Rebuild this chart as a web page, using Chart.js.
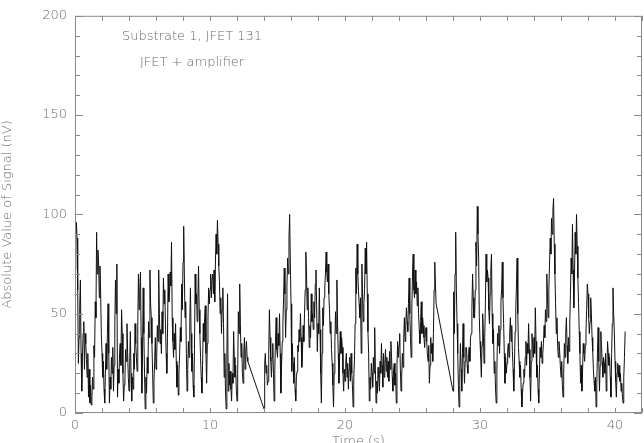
<!DOCTYPE html>
<html>
<head>
<meta charset="utf-8">
<script src="https://cdn.jsdelivr.net/npm/chart.js@4/dist/chart.umd.min.js"></script>
<style>
html,body{margin:0;padding:0;overflow:hidden;background:#fff;}
#c{display:block;}
</style>
</head>
<body>
<canvas id="c" width="644" height="450"></canvas>
<script>
// Sampling: three recorded stretches, 0.05 s between samples
const segmentStart = [0, 14, 28];   // s
const sampleStep = 0.05;            // s
// Absolute value of signal (nV)
const signal1 = [
72,86,96,88,62,25,38,54,67,30,11,28,40,46,22,40,35,27,18,30,
8,22,5,14,4,7,18,12,34,28,56,48,91,70,82,75,58,74,60,40,
30,18,26,12,5,20,35,22,40,55,30,5,18,12,28,20,33,11,24,45,
67,50,75,8,22,15,30,35,24,52,40,20,6,14,18,32,26,45,30,18,
11,25,41,20,6,18,12,30,22,45,35,28,21,44,70,52,62,71,38,10,
30,63,40,20,2,18,10,28,20,46,38,72,55,48,35,20,5,16,26,38,
22,28,44,36,72,50,35,42,30,51,40,68,55,62,45,30,20,38,70,56,
60,71,64,86,48,36,28,40,32,45,26,13,24,9,20,30,43,36,65,52,
76,94,70,48,56,30,11,22,36,28,45,63,40,21,30,14,8,32,70,55,
60,46,58,74,52,40,28,18,10,24,45,36,48,54,30,15,35,48,63,55,
62,70,58,68,70,60,72,56,75,90,80,97,85,74,66,50,58,40,52,63,
45,18,30,10,2,30,60,11,25,14,21,12,6,20,15,41,28,18,24,12,
6,20,51,40,65,45,28,35,20,15,30,38,22,31,36,28,26
];
const signal2 = [
2,25,30,20,24,14,16,30,52,38,26,18,28,35,20,6,22,36,48,32,
28,40,34,50,30,10,24,36,45,58,73,60,38,52,64,78,70,88,100,76,
55,21,35,25,15,28,12,6,18,21,34,31,42,36,50,38,23,30,44,36,
50,62,81,70,52,63,48,33,44,38,60,46,50,42,56,48,65,72,54,31,
45,40,63,42,20,5,30,53,44,58,63,70,81,71,66,75,60,52,40,46,
32,25,14,3,20,36,51,40,67,45,30,15,28,41,30,38,33,20,11,22,
16,25,30,18,25,12,22,28,16,30,20,14,3,18,26,45,73,60,85,70,
61,55,48,58,30,75,60,46,55,62,83,70,86,60,41,30,6,18,12,25,
20,13,28,20,43,22,5,16,10,23,18,11,26,20,35,24,13,30,18,25,
32,21,28,18,26,16,31,22,36,28,18,11,22,25,14,20,5,24,36,28,
34,40,22,11,18,30,23,38,48,36,44,53,46,41,55,68,50,38,28,52,
70,80,62,58,72,60,66,54,63,50,42,35,46,56,40,48,44,38,33,40,
43,36,30,26,34,15,24,38,30,35,26,40,62,76,64,55
];
const signal3 = [
11,61,40,70,91,62,45,30,14,3,20,35,22,11,30,45,28,15,26,33,
33,24,20,30,33,26,38,40,52,70,58,48,48,62,86,74,104,90,78,48,
36,28,18,34,50,40,25,38,55,80,66,72,68,52,45,60,72,80,50,35,
42,20,26,12,5,22,40,34,44,30,42,56,62,76,58,45,30,15,28,20,
25,32,35,28,40,48,36,44,31,22,11,24,41,52,64,78,50,33,26,18,
24,12,3,10,15,22,18,28,36,24,35,30,45,32,18,6,26,40,34,28,
38,30,53,36,18,24,12,5,20,33,28,36,25,30,35,44,38,52,46,70,
58,48,62,75,88,80,98,90,102,108,85,70,55,40,48,34,28,36,31,24,
18,26,14,8,20,35,28,40,48,34,25,38,31,45,60,78,70,95,72,53,
70,91,80,100,84,68,55,41,30,15,24,11,22,35,30,26,34,41,52,65,
60,48,40,46,58,50,38,31,22,16,11,18,3,14,30,43,26,11,24,41,
34,26,18,28,25,20,30,11,22,36,30,24,28,18,8,30,45,63,50,41,
26,16,8,20,25,18,24,16,20,11,15,8,5,18,28,41
];
const signalSegments = [signal1, signal2, signal3];
const xTickValues = [0,10,20,30,40];
const yTickValues = [0,50,100,150,200];
const annotations = ["Substrate 1, JFET 131", "JFET + amplifier"];

const FONT = "'DejaVu Sans', sans-serif";
const TXT = '#6a6a6a';
const AX = '#8a8a8a';

const points = [];
signalSegments.forEach((seg, k) => {
  seg.forEach((v, i) => points.push({x: +(segmentStart[k] + i * sampleStep).toFixed(2), y: v}));
});

const frame = {
  id: 'frame',
  afterDatasetsDraw(chart) {
    const {ctx, chartArea: a, scales: {x, y}} = chart;
    ctx.save();
    ctx.strokeStyle = AX;
    ctx.lineWidth = 1;
    ctx.beginPath();
    ctx.rect(a.left + 0.5, a.top + 0.5, a.right - a.left - 1, a.bottom - a.top - 1);
    for (let v = 0; v <= 42; v += 2) {
      const px = Math.round(x.getPixelForValue(v)) + 0.5;
      ctx.moveTo(px, a.bottom); ctx.lineTo(px, a.bottom - 5);
      ctx.moveTo(px, a.top); ctx.lineTo(px, a.top + 5);
    }
    for (let v = 0; v <= 200; v += 10) {
      const py = Math.round(y.getPixelForValue(v)) + 0.5;
      const len = (v % 50 === 0) ? 8 : 5;
      ctx.moveTo(a.left, py); ctx.lineTo(a.left + len, py);
      ctx.moveTo(a.right, py); ctx.lineTo(a.right - len, py);
    }
    ctx.stroke();
    ctx.fillStyle = TXT;
    ctx.font = "200 13px " + FONT;
    ctx.textAlign = 'center';
    ctx.textBaseline = 'middle';
    const cx = x.getPixelForValue(8.67);
    ctx.fillText(annotations[0], cx, y.getPixelForValue(189.5));
    ctx.fillText(annotations[1], cx, y.getPixelForValue(176.5));
    ctx.restore();
  }
};

new Chart(document.getElementById('c'), {
  type: 'line',
  data: {
    datasets: [{
      data: points,
      borderColor: '#111111',
      borderWidth: 1,
      pointRadius: 0,
      tension: 0,
      fill: false
    }]
  },
  options: {
    responsive: false,
    animation: false,
    devicePixelRatio: 1,
    layout: {padding: {top: 13, right: 2, left: 0, bottom: 0}},
    plugins: {legend: {display: false}, tooltip: {enabled: false}},
    scales: {
      x: {
        type: 'linear', min: 0, max: 42,
        grid: {display: false, drawTicks: false},
        border: {display: false},
        afterBuildTicks(s) { s.ticks = xTickValues.map(v => ({value: v})); },
        afterFit(s) { s.height = 37; },
        ticks: {
          padding: 5, color: TXT, maxRotation: 0, autoSkip: false,
          font: {family: FONT, size: 13, weight: '200'}
        },
        title: {
          display: true, text: 'Time (s)', color: TXT,
          font: {family: FONT, size: 13, weight: '200'},
          padding: {top: 0, bottom: 1}
        }
      },
      y: {
        type: 'linear', min: 0, max: 200,
        grid: {display: false, drawTicks: false},
        border: {display: false},
        afterBuildTicks(s) { s.ticks = yTickValues.map(v => ({value: v})); },
        afterFit(s) { s.width = 75; },
        ticks: {
          padding: 8, color: TXT,
          font: {family: FONT, size: 13, weight: '200'}
        },
        title: {
          display: true, text: 'Absolute Value of Signal (nV)', color: TXT,
          font: {family: FONT, size: 13, weight: '200'},
          padding: {top: 0, bottom: 0}
        }
      }
    }
  },
  plugins: [frame]
});
</script>
</body>
</html>
